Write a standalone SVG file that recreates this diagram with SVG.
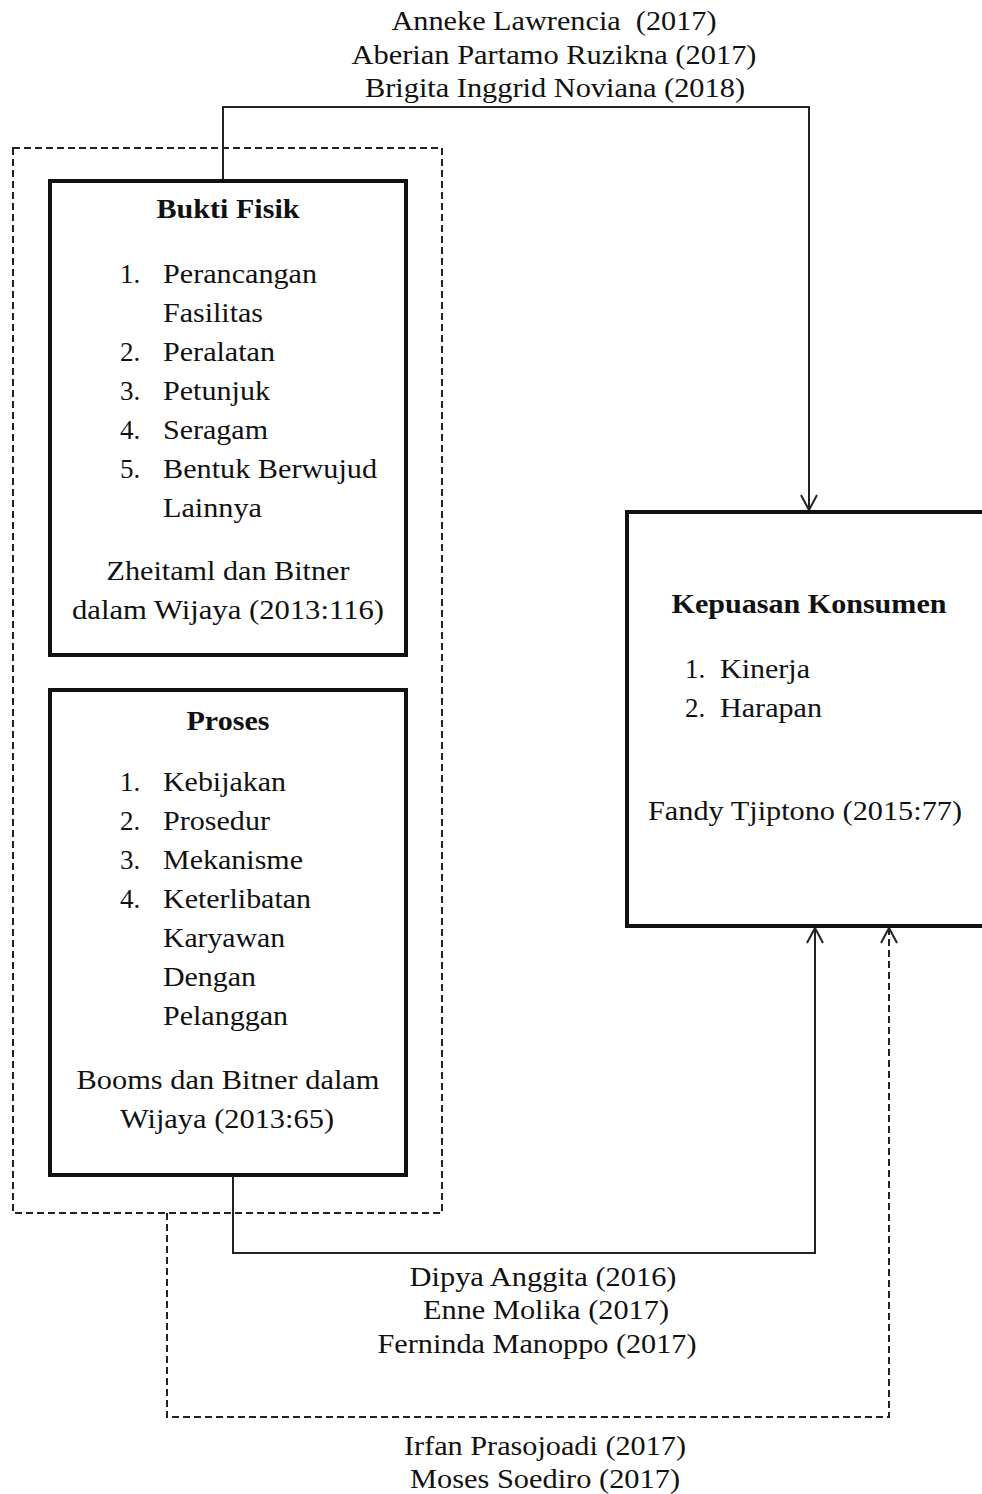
<svg xmlns="http://www.w3.org/2000/svg" width="982" height="1494" viewBox="0 0 982 1494">
<style>
text{font-family:"Liberation Serif","Times New Roman",serif;font-size:27px;fill:#111}
.b{font-weight:bold}
.c{text-anchor:middle}
.box{fill:#fff;stroke:#111;stroke-width:4}
.dash{fill:none;stroke:#222;stroke-width:2;stroke-dasharray:7 4}
.ln{fill:none;stroke:#222;stroke-width:2}
</style>
<defs>
<marker id="ah" viewBox="0 0 20 20" refX="18" refY="10" markerWidth="20" markerHeight="20" markerUnits="userSpaceOnUse" orient="auto">
<path d="M3,2 L18,10 L3,18" fill="none" stroke="#222" stroke-width="2"/>
</marker>
</defs>
<g id="group-outer">
<rect class="dash" x="13" y="148" width="429" height="1065"/>
</g>
<g id="connectors">
<path class="ln" d="M223,181 V107 H809 V510" marker-end="url(#ah)"/>
<path class="ln" d="M233,1175 V1253 H815 V928" marker-end="url(#ah)"/>
<path class="dash" d="M167,1213 V1417 H889 V928" marker-end="url(#ah)"/>
</g>
<g id="bukti-fisik">
<rect class="box" x="50" y="181" width="356" height="474"/>
<text class="b c" x="228" y="218" textLength="143" lengthAdjust="spacingAndGlyphs">Bukti Fisik</text>
<text x="120" y="283">1.</text><text x="163" y="283" textLength="154" lengthAdjust="spacingAndGlyphs">Perancangan</text>
<text x="163" y="322" textLength="100" lengthAdjust="spacingAndGlyphs">Fasilitas</text>
<text x="120" y="361">2.</text><text x="163" y="361" textLength="112" lengthAdjust="spacingAndGlyphs">Peralatan</text>
<text x="120" y="400">3.</text><text x="163" y="400" textLength="107" lengthAdjust="spacingAndGlyphs">Petunjuk</text>
<text x="120" y="439">4.</text><text x="163" y="439" textLength="105" lengthAdjust="spacingAndGlyphs">Seragam</text>
<text x="120" y="478">5.</text><text x="163" y="478" textLength="214" lengthAdjust="spacingAndGlyphs">Bentuk Berwujud</text>
<text x="163" y="517" textLength="99" lengthAdjust="spacingAndGlyphs">Lainnya</text>
<text class="c" x="228" y="580" textLength="243" lengthAdjust="spacingAndGlyphs">Zheitaml dan Bitner</text>
<text class="c" x="228" y="619" textLength="312" lengthAdjust="spacingAndGlyphs">dalam Wijaya (2013:116)</text>
</g>
<g id="proses">
<rect class="box" x="50" y="690" width="356" height="485"/>
<text class="b c" x="228" y="730" textLength="83" lengthAdjust="spacingAndGlyphs">Proses</text>
<text x="120" y="791">1.</text><text x="163" y="791" textLength="123" lengthAdjust="spacingAndGlyphs">Kebijakan</text>
<text x="120" y="830">2.</text><text x="163" y="830" textLength="107" lengthAdjust="spacingAndGlyphs">Prosedur</text>
<text x="120" y="869">3.</text><text x="163" y="869" textLength="140" lengthAdjust="spacingAndGlyphs">Mekanisme</text>
<text x="120" y="908">4.</text><text x="163" y="908" textLength="148" lengthAdjust="spacingAndGlyphs">Keterlibatan</text>
<text x="163" y="947" textLength="122" lengthAdjust="spacingAndGlyphs">Karyawan</text>
<text x="163" y="986" textLength="93" lengthAdjust="spacingAndGlyphs">Dengan</text>
<text x="163" y="1025" textLength="125" lengthAdjust="spacingAndGlyphs">Pelanggan</text>
<text class="c" x="228" y="1089" textLength="303" lengthAdjust="spacingAndGlyphs">Booms dan Bitner dalam</text>
<text class="c" x="227" y="1128" textLength="214" lengthAdjust="spacingAndGlyphs">Wijaya (2013:65)</text>
</g>
<g id="kepuasan-konsumen">
<rect class="box" x="627" y="512" width="370" height="414"/>
<text class="b c" x="809" y="613" textLength="275" lengthAdjust="spacingAndGlyphs">Kepuasan Konsumen</text>
<text x="685" y="678">1.</text><text x="720" y="678" textLength="90" lengthAdjust="spacingAndGlyphs">Kinerja</text>
<text x="685" y="717">2.</text><text x="720" y="717" textLength="102" lengthAdjust="spacingAndGlyphs">Harapan</text>
<text class="c" x="805" y="820" textLength="314" lengthAdjust="spacingAndGlyphs">Fandy Tjiptono (2015:77)</text>
</g>
<g id="labels">
<text class="c" x="554" y="30" textLength="325" lengthAdjust="spacingAndGlyphs">Anneke Lawrencia&#160; (2017)</text>
<text class="c" x="554" y="64" textLength="405" lengthAdjust="spacingAndGlyphs">Aberian Partamo Ruzikna (2017)</text>
<text class="c" x="555" y="97" textLength="380" lengthAdjust="spacingAndGlyphs">Brigita Inggrid Noviana (2018)</text>
<text class="c" x="543" y="1286" textLength="267" lengthAdjust="spacingAndGlyphs">Dipya Anggita (2016)</text>
<text class="c" x="546" y="1319" textLength="246" lengthAdjust="spacingAndGlyphs">Enne Molika (2017)</text>
<text class="c" x="537" y="1353" textLength="319" lengthAdjust="spacingAndGlyphs">Ferninda Manoppo (2017)</text>
<text class="c" x="545" y="1455" textLength="282" lengthAdjust="spacingAndGlyphs">Irfan Prasojoadi (2017)</text>
<text class="c" x="545" y="1488" textLength="270" lengthAdjust="spacingAndGlyphs">Moses Soediro (2017)</text>
</g>
</svg>
